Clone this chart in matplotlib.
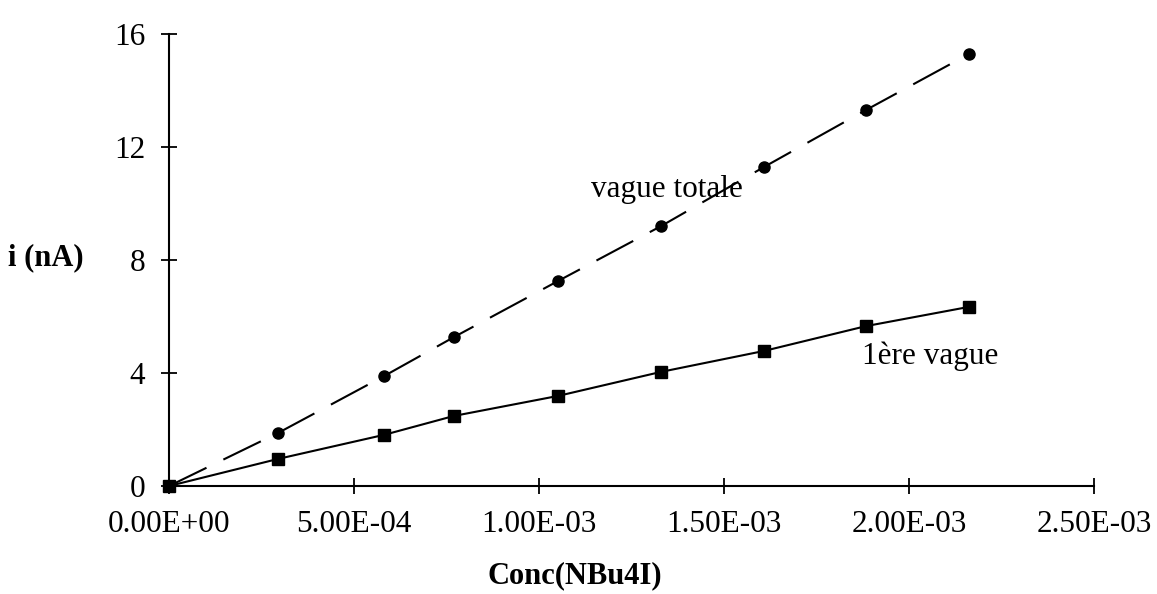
import matplotlib
matplotlib.use("Agg")
import matplotlib.pyplot as plt

# concentration of NBu4I (mol/L) and measured currents (nA)
conc = [0.0, 2.95e-4, 5.81e-4, 7.70e-4, 1.052e-3, 1.330e-3, 1.608e-3, 1.884e-3, 2.162e-3]
i_first = [0.0, 0.96, 1.81, 2.48, 3.19, 4.04, 4.78, 5.66, 6.34]
i_total = [0.0, 1.88, 3.89, 5.27, 7.26, 9.20, 11.29, 13.31, 15.29]

xticks = [0.0, 5.0e-4, 1.0e-3, 1.5e-3, 2.0e-3, 2.5e-3]
xticklabels = ["0.00E+00", "5.00E-04", "1.00E-03", "1.50E-03", "2.00E-03", "2.50E-03"]
yticks = [0, 4, 8, 12, 16]

plt.rcParams["font.family"] = ["Liberation Serif", "DejaVu Serif"]

fig = plt.figure(figsize=(11.57, 5.94), dpi=100)
ax = fig.add_axes([0.1461, 0.1818, 0.7994, 0.7610])

ax.plot(conc, i_total, color="black", linewidth=1.5, linestyle=(0, (20, 9)),
        marker="o", markersize=8, clip_on=False, zorder=3)
ax.plot(conc, i_first, color="black", linewidth=1.5,
        marker="s", markersize=8.5, clip_on=False, zorder=4)

ax.set_xlim(0, 2.5e-3)
ax.set_ylim(0, 16)
ax.set_xticks(xticks)
ax.set_xticklabels(xticklabels)
ax.set_yticks(yticks)

for side in ["top", "right"]:
    ax.spines[side].set_visible(False)
for side in ["left", "bottom"]:
    ax.spines[side].set_linewidth(1.5)

ax.tick_params(direction="inout", length=12, width=1.3, labelsize=22.5, pad=11)
ax.tick_params(axis="y", pad=11)

ax.text(1.346e-3, 10.5, "vague totale", fontsize=22.5, ha="center", va="center")
ax.text(2.057e-3, 4.6, "1ère vague", fontsize=22.5, ha="center", va="center")

fig.text(46 / 1157, 1 - 258 / 594, "i (nA)", fontsize=22, fontweight="bold",
         ha="center", va="center")
fig.text(575 / 1157, 1 - 576 / 594, "Conc(NBu4I)", fontsize=22, fontweight="bold",
         ha="center", va="center")

fig.savefig("out.png", dpi=100, facecolor="white")
